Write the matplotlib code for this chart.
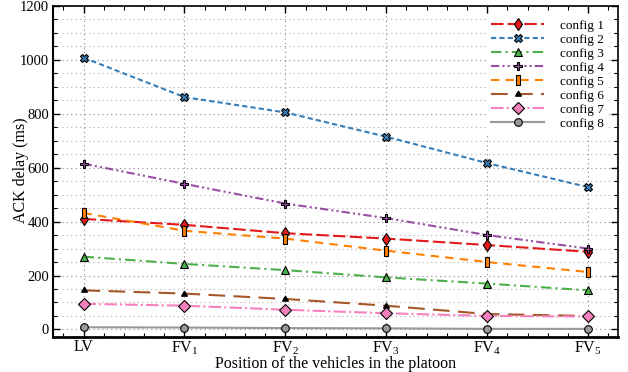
import matplotlib
matplotlib.use("Agg")
import matplotlib.pyplot as plt
from matplotlib.path import Path
import numpy as np

positions = ["LV", "FV$_1$", "FV$_2$", "FV$_3$", "FV$_4$", "FV$_5$"]
config1 = [410, 388, 357, 337, 313, 288]
config2 = [1008, 862, 805, 715, 617, 528]
config3 = [270, 243, 220, 193, 170, 145]
config4 = [615, 540, 467, 413, 350, 300]
config5 = [432, 366, 337, 292, 250, 213]
config6 = [145, 133, 113, 88, 57, 50]
config7 = [95, 88, 73, 60, 50, 48]
config8 = [8, 7, 5, 4, 2, 2]
labels = ["config 1", "config 2", "config 3", "config 4",
          "config 5", "config 6", "config 7", "config 8"]

plt.rcParams['font.family'] = ['Liberation Serif', 'DejaVu Serif']
plt.rcParams['mathtext.fontset'] = 'custom'
plt.rcParams['mathtext.rm'] = 'Liberation Serif'
plt.rcParams['mathtext.it'] = 'Liberation Serif:italic'

rect = Path([(-0.35, -1), (0.35, -1), (0.35, 1), (-0.35, 1), (-0.35, -1)],
            [Path.MOVETO, Path.LINETO, Path.LINETO, Path.LINETO, Path.CLOSEPOLY])

styles = [
    dict(color="#e41a1c", ls=(0, (6, 2)), marker="d", ms=6),
    dict(color="#377eb8", ls=(0, (2.5, 1.5)), marker="X", ms=6),
    dict(color="#4daf4a", ls=(0, (5, 2, 1, 2)), marker="^", ms=6),
    dict(color="#984ea3", ls=(0, (4, 1.5, 1, 1.5, 1, 1.5)), marker="P", ms=6),
    dict(color="#ff7f00", ls=(0, (4, 3)), marker=rect, ms=7),
    dict(color="#a65628", ls=(0, (8, 4)), marker=(3, 1, 0), ms=5, mfc="black"),
    dict(color="#f781bf", ls=(0, (6, 1.5, 1, 1.5)), marker="D", ms=6),
    dict(color="#999999", ls="-", marker="o", ms=5.5),
]

data = [config1, config2, config3, config4, config5, config6, config7, config8]

fig = plt.figure(figsize=(6.28, 3.72), dpi=100)
ax = fig.add_axes([0.0849, 0.0949, 0.8997, 0.889])
x = np.arange(len(positions))
for vals, lab, st in zip(data, labels, styles):
    st = dict(st)
    mfc = st.pop("mfc", st["color"])
    ax.plot(x, vals, label=lab, lw=1.5, mec="black", mew=0.8, mfc=mfc, **st)

ax.set_xlim(-0.3, 5.3)
ax.set_ylim(-27, 1200)
ax.set_xticks(x)
ax.set_xticklabels(positions)
ax.set_xticks(np.arange(-0.2, 5.3, 0.2), minor=True)
ax.set_yticks(np.arange(0, 1201, 200))
ax.set_yticks(np.arange(0, 1201, 50), minor=True)
ax.tick_params(axis='both', which='major', direction='in', length=5, width=1,
               top=True, right=True, labelsize=10.5, pad=3)
ax.tick_params(axis='both', which='minor', direction='in', length=3, width=0.8,
               top=True, right=True)
ax.tick_params(axis='x', labelsize=11.5, pad=2)
ax.grid(True, which='major', ls=(0, (1, 3)), color='#888888', lw=0.8)
ax.grid(True, which='minor', axis='y', ls=(0, (1, 3)), color='#aaaaaa', lw=0.8)
for s in ax.spines.values():
    s.set_linewidth(1.2)
ax.spines['bottom'].set_linewidth(2)
ax.spines['left'].set_linewidth(1.5)
ax.set_xlabel("Position of the vehicles in the platoon", fontsize=11.5)
ax.xaxis.set_label_coords(0.5, -0.057)
ax.set_ylabel("ACK delay (ms)", fontsize=11.5)
ax.yaxis.set_label_coords(-0.043, 0.505)
leg = ax.legend(loc="upper right", fontsize=9.5, handlelength=4.0, frameon=True,
                fancybox=False, edgecolor="white", framealpha=1,
                labelspacing=0.13, borderpad=0.3, handletextpad=1.2,
                bbox_to_anchor=(0.993, 0.99))
fig.savefig("out.png", dpi=100)
